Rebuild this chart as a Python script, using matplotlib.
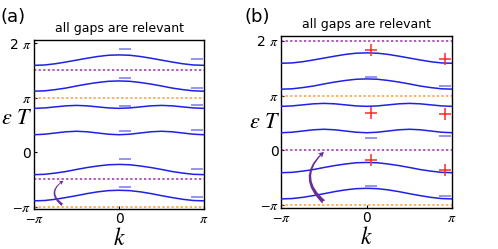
import numpy as np
import matplotlib
matplotlib.use("Agg")
import matplotlib.pyplot as plt
from matplotlib.patches import FancyArrowPatch

plt.rcParams['font.family'] = ['DejaVu Sans']
plt.rcParams['mathtext.fontset'] = 'stix'

# momentum grid (steps of pi/8) and band energies
k = np.pi * np.arange(-8, 9) / 8
half1 = [5.00, 5.02, 5.09, 5.19, 5.30, 5.41, 5.51, 5.58, 5.60]
half2 = [3.51, 3.53, 3.60, 3.69, 3.81, 3.92, 4.01, 4.08, 4.10]
half3 = [2.52, 2.545, 2.605, 2.665, 2.69, 2.665, 2.605, 2.545, 2.52]
half4 = [1.00, 1.03, 1.10, 1.17, 1.20, 1.17, 1.10, 1.03, 1.00]
half5 = [-1.30, -1.28, -1.21, -1.12, -1.00, -0.89, -0.80, -0.73, -0.71]
half6 = [-2.81, -2.79, -2.72, -2.62, -2.51, -2.39, -2.29, -2.22, -2.20]
bands = [h + h[-2::-1] for h in [half1, half2, half3, half4, half5, half6]]

# gap lines
gaps_a_purple = [3 * np.pi / 2, -np.pi / 2]
gaps_a_orange = [np.pi, -np.pi]
gaps_b_purple = [2 * np.pi, 0]
gaps_b_orange = [np.pi, -np.pi]

# parity markers (k position, energy)
k_mark_a = [0.22, 2.88]
minus_a_center = [5.94, 4.29, 2.64, 1.23, -0.42, -1.99]
minus_a_right = [5.37, 3.72, 2.74, 1.30, -0.96, -2.57]

k_mark_b = [0.17, 2.86]
plus_b_center = [5.78, 2.15, -0.59]
plus_b_right = [5.26, 2.10, -1.13]
minus_b_center = [4.20, 0.71, -2.09]
minus_b_right = [3.67, 0.83, -2.67]

band_col = '#2020e6'
minus_col = '#8c8cf2'
plus_col = '#ff2a2a'
purple = '#9b2fa8'
orange = '#ff9933'
arrow_col = '#6a2f96'

fig = plt.figure(figsize=(4.98, 2.49), dpi=100)
ax_a = fig.add_axes([0.0683, 0.1606, 0.3414, 0.6788])
ax_b = fig.add_axes([0.565, 0.1635, 0.343, 0.6905])


def setup(ax, ylim):
    for b in bands:
        ax.plot(k, b, color=band_col, lw=1.1, zorder=3)
    ax.set_xlim(-np.pi, np.pi)
    ax.set_ylim(*ylim)
    ax.set_xticks([-np.pi, 0, np.pi])
    ax.set_xticklabels([r'$-\pi$', '0', r'$\pi$'])
    ax.set_yticks([-np.pi, 0, np.pi, 2 * np.pi])
    ax.set_yticklabels([r'$-\pi$', '0', r'$\pi$', r'2 $\pi$'])
    ax.tick_params(direction='in', length=2, width=0.8, labelsize=10, pad=2)
    for s in ax.spines.values():
        s.set_linewidth(1.0)
    ax.set_title('all gaps are relevant', fontsize=9, pad=6)
    ax.set_xlabel(r'$k$', fontsize=17, labelpad=0)


setup(ax_a, (-3.28, 6.46))
setup(ax_b, (-3.35, 6.55))

for y in gaps_a_purple:
    ax_a.axhline(y, color=purple, lw=1.1, ls=(0, (1.5, 1.5)), zorder=2)
for y in gaps_a_orange:
    ax_a.axhline(y, color=orange, lw=1.1, ls=(0, (1.5, 1.5)), zorder=2)
for y in gaps_b_purple:
    ax_b.axhline(y, color=purple, lw=1.1, ls=(0, (1.5, 1.5)), zorder=2, clip_on=False)
for y in gaps_b_orange:
    ax_b.axhline(y, color=orange, lw=1.1, ls=(0, (1.5, 1.5)), zorder=2)

mk = dict(ls='none', zorder=4)
ax_a.plot([k_mark_a[0]] * 6, minus_a_center, marker='_', ms=9, mew=1.3, color=minus_col, **mk)
ax_a.plot([k_mark_a[1]] * 6, minus_a_right, marker='_', ms=9, mew=1.3, color=minus_col, **mk)
ax_b.plot([k_mark_b[0]] * 3, minus_b_center, marker='_', ms=9, mew=1.3, color=minus_col, **mk)
ax_b.plot([k_mark_b[1]] * 3, minus_b_right, marker='_', ms=9, mew=1.3, color=minus_col, **mk)
ax_b.plot([k_mark_b[0]] * 3, plus_b_center, marker='+', ms=9, mew=1.1, color=plus_col, **mk)
ax_b.plot([k_mark_b[1]] * 3, plus_b_right, marker='+', ms=9, mew=1.1, color=plus_col, **mk)

ax_a.yaxis.set_label_coords(-0.1, 0.54)
ax_a.set_ylabel(r'$\varepsilon\ T$', fontsize=16, rotation=0, va='center', ha='center')
ax_b.yaxis.set_label_coords(-0.095, 0.50)
ax_b.set_ylabel(r'$\varepsilon\ T$', fontsize=16, rotation=0, va='center', ha='center')

arr_a = FancyArrowPatch((-2.0, -np.pi), (-1.97, -np.pi / 2),
                        connectionstyle='arc3,rad=-0.8',
                        arrowstyle='fancy,head_length=3,head_width=3,tail_width=2',
                        color=arrow_col, lw=0, zorder=5)
ax_a.add_patch(arr_a)
arr_b = FancyArrowPatch((-1.50, -np.pi + 0.05), (-1.50, 0.0),
                        connectionstyle='arc3,rad=-0.6',
                        arrowstyle='fancy,head_length=4,head_width=4,tail_width=3',
                        color=arrow_col, lw=0, zorder=5)
ax_b.add_patch(arr_b)

fig.text(0.0, 0.93, '(a)', fontsize=13, va='center')
fig.text(0.491, 0.93, '(b)', fontsize=13, va='center')

fig.savefig('out.png', dpi=100)
